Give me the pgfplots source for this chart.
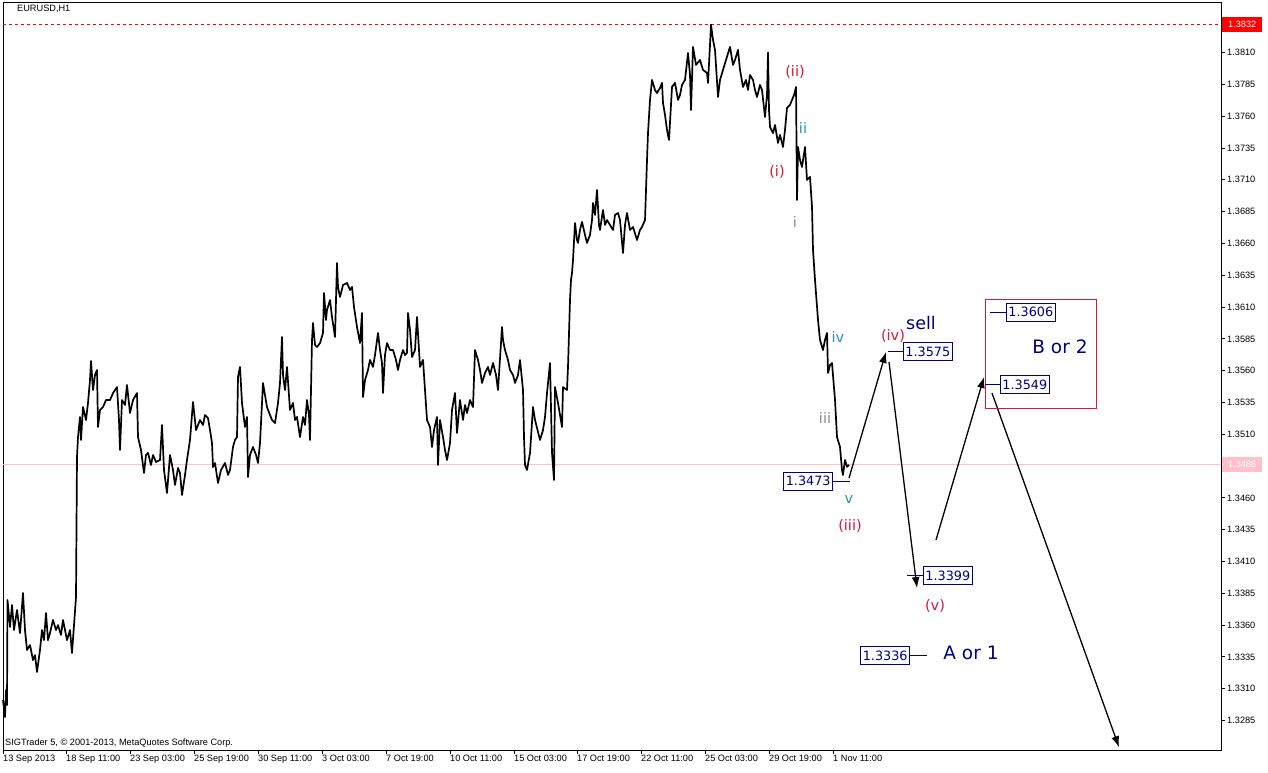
\documentclass[border=0pt]{standalone}
\usepackage{fontspec}
\setmainfont{Liberation Sans}
\newfontfamily\dv{DejaVu Sans}
\usepackage{pgfplots}
\pgfplotsset{compat=1.18}
\usetikzlibrary{arrows.meta}
\definecolor{wred}{HTML}{DC143C}
\definecolor{wteal}{HTML}{2A8FB0}
\definecolor{wgray}{HTML}{8A8A8A}
\definecolor{navyb}{HTML}{000080}
\definecolor{curpink}{HTML}{FFC0CB}
\begin{document}
\begin{tikzpicture}
\useasboundingbox (0,0) rectangle (1268pt,772pt);
\begin{axis}[
 at={(3pt,22pt)}, anchor=south west,
 scale only axis, width=1218pt, height=747pt,
 xmin=3, xmax=1221, ymin=1.32618, ymax=1.38490,
 clip=false,
 axis line style={black, line width=1pt},
 xtick pos=left, ytick pos=right, yticklabel pos=right,
 tick align=outside, major tick length=4pt,
 tick style={black, line width=0.8pt},
 xtick={3,66,130,194,258,322,386,450,514,577,641,705,769,833},
 xticklabels={13 Sep 2013,18 Sep 11:00,23 Sep 03:00,25 Sep 19:00,30 Sep 11:00,3 Oct 03:00,7 Oct 19:00,10 Oct 11:00,15 Oct 03:00,17 Oct 19:00,22 Oct 11:00,25 Oct 03:00,29 Oct 19:00,1 Nov 11:00},
 xticklabel style={anchor=north west, font=\fontsize{9.2}{10}\selectfont, inner sep=1pt, xshift=-1pt},
 ytick={1.3285,1.3310,1.3335,1.3360,1.3385,1.3410,1.3435,1.3460,1.3510,1.3535,1.3560,1.3585,1.3610,1.3635,1.3660,1.3685,1.3710,1.3735,1.3760,1.3785,1.3810},
 yticklabels={1.3285,1.3310,1.3335,1.3360,1.3385,1.3410,1.3435,1.3460,1.3510,1.3535,1.3560,1.3585,1.3610,1.3635,1.3660,1.3685,1.3710,1.3735,1.3760,1.3785,1.3810},
 yticklabel style={anchor=west, font=\fontsize{9.2}{10}\selectfont, inner sep=1pt, xshift=1pt},
]
% current price line and high line
\addplot[curpink, line width=0.8pt] coordinates {(3,1.3486) (1221,1.3486)};
\addplot[red, line width=0.8pt, dash pattern=on 3pt off 3pt] coordinates {(3,1.3832) (1221,1.3832)};
% price
\addplot[black, line width=1.7pt, line join=round] coordinates {
(3,1.33011) (5,1.32877) (6,1.33089) (7,1.32971) (7.5,1.33797) (10,1.33585) (12,1.33758) (14,1.33561) (17,1.33718) (20,1.33537) (23,1.33852) (25,1.33561) (27,1.33404) (30,1.33443) (33,1.33325) (35,1.33364) (37,1.33231) (40,1.33404) (42,1.33561) (44,1.33482) (46,1.33695) (48,1.33482) (50,1.33537) (53,1.33640) (56,1.33561) (58,1.33600) (61,1.33522) (63,1.33640) (65,1.33561) (67,1.33482) (70,1.33561) (72,1.33380) (74,1.33600) (76,1.33820) (77,1.34921) (78,1.35078) (80,1.35236) (81,1.35055) (83,1.35314) (86,1.35212) (88,1.35346) (90,1.35526) (91,1.35676) (93,1.35448) (95,1.35566) (97,1.35605) (98,1.35157) (100,1.35291) (103,1.35314) (106,1.35369) (110,1.35369) (113,1.35424) (117,1.35471) (119,1.35212) (120,1.34976) (122,1.35369) (125,1.35330) (127,1.35487) (130,1.35267) (133,1.35369) (137,1.35424) (138,1.35078) (141,1.34976) (144,1.34795) (146,1.34937) (148,1.34953) (151,1.34858) (153,1.34937) (156,1.34882) (160,1.34898) (162,1.35173) (164,1.34819) (167,1.34638) (170,1.34937) (173,1.34819) (175,1.34701) (178,1.34835) (180,1.34795) (182,1.34622) (185,1.34780) (187,1.34898) (190,1.35055) (193,1.35354) (196,1.35133) (200,1.35212) (203,1.35173) (205,1.35251) (208,1.35228) (210,1.35133) (212,1.35031) (213,1.34842) (215,1.34874) (218,1.34717) (221,1.34819) (225,1.34874) (228,1.34780) (230,1.34819) (233,1.35000) (235,1.35055) (237,1.35078) (238,1.35550) (240,1.35629) (242,1.35346) (245,1.35157) (247,1.35236) (248,1.34764) (250,1.34937) (253,1.35000) (256,1.34937) (258,1.34874) (260,1.35031) (263,1.35503) (265,1.35409) (267,1.35314) (270,1.35251) (272,1.35212) (275,1.35188) (278,1.35346) (280,1.35503) (282,1.35865) (283,1.35566) (285,1.35448) (287,1.35629) (290,1.35291) (293,1.35346) (295,1.35212) (297,1.35236) (300,1.35078) (303,1.35236) (305,1.35173) (307,1.35369) (309,1.35251) (310,1.35055) (312,1.35841) (313,1.35975) (315,1.35802) (317,1.35786) (320,1.35817) (323,1.35896) (324,1.36210) (326,1.35998) (327,1.36077) (330,1.36155) (332,1.36022) (335,1.35865) (337,1.36446) (338,1.36258) (340,1.36179) (343,1.36273) (347,1.36289) (350,1.36234) (352,1.36258) (354,1.36100) (357,1.35943) (360,1.35817) (362,1.36053) (363,1.35393) (365,1.35526) (368,1.35605) (370,1.35684) (373,1.35629) (375,1.35723) (378,1.35896) (380,1.35762) (382,1.35660) (383,1.35424) (385,1.35723) (387,1.35817) (390,1.35762) (393,1.35762) (396,1.35684) (398,1.35605) (400,1.35684) (403,1.35762) (405,1.35723) (407,1.35739) (408,1.36053) (410,1.35920) (412,1.35707) (415,1.35762) (417,1.36022) (420,1.35629) (423,1.35684) (425,1.35448) (427,1.35212) (430,1.35157) (432,1.35000) (434,1.35133) (437,1.35236) (438,1.34858) (440,1.35212) (443,1.35078) (445,1.34976) (447,1.34898) (450,1.35031) (452,1.35291) (455,1.35424) (457,1.35110) (460,1.35369) (463,1.35212) (465,1.35330) (467,1.35267) (470,1.35369) (473,1.35314) (475,1.35762) (478,1.35684) (480,1.35605) (482,1.35503) (485,1.35582) (488,1.35629) (490,1.35566) (493,1.35660) (496,1.35566) (498,1.35448) (502,1.35943) (503,1.35841) (505,1.35762) (508,1.35684) (510,1.35605) (513,1.35566) (515,1.35503) (518,1.35566) (520,1.35684) (523,1.35448) (524,1.35078) (525,1.34858) (527,1.34819) (530,1.34953) (533,1.35314) (535,1.35212) (540,1.35055) (543,1.35133) (545,1.35236) (547,1.35424) (550,1.35660) (552,1.34953) (554,1.34740) (555,1.35471) (558,1.35346) (560,1.35251) (562,1.35157) (563,1.35471) (567,1.35448) (568,1.35629) (570,1.36155) (571,1.36313) (572,1.36368) (573,1.36470) (575,1.36761) (577,1.36627) (578,1.36604) (580,1.36706) (582,1.36769) (585,1.36667) (587,1.36604) (590,1.36667) (592,1.36784) (593,1.36918) (595,1.36824) (597,1.37020) (599,1.36745) (600,1.36706) (603,1.36863) (605,1.36745) (607,1.36784) (610,1.36745) (613,1.36706) (615,1.36824) (618,1.36839) (620,1.36784) (623,1.36525) (625,1.36745) (627,1.36839) (630,1.36706) (633,1.36729) (637,1.36627) (640,1.36706) (642,1.36729) (645,1.36784) (647,1.37256) (648,1.37468) (650,1.37728) (652,1.37885) (655,1.37806) (657,1.37783) (660,1.37822) (662,1.37862) (663,1.37704) (665,1.37610) (667,1.37492) (669,1.37413) (672,1.37830) (675,1.37862) (678,1.37728) (680,1.37767) (682,1.37846) (685,1.37885) (688,1.38097) (690,1.37924) (691,1.37649) (693,1.38145) (696,1.38003) (700,1.38042) (703,1.37964) (707,1.37940) (708,1.37862) (710,1.38160) (711,1.38320) (713,1.38200) (715,1.38121) (718,1.37751) (720,1.37885) (723,1.37964) (726,1.38042) (730,1.38145) (733,1.38003) (735,1.38042) (738,1.38121) (740,1.37964) (743,1.37830) (746,1.37885) (748,1.37806) (750,1.37924) (753,1.37885) (755,1.37806) (757,1.37751) (760,1.37846) (762,1.37806) (765,1.37594) (767,1.37767) (768,1.38100) (769,1.37649) (770,1.37516) (773,1.37468) (775,1.37531) (778,1.37390) (780,1.37453) (783,1.37358) (785,1.37492) (787,1.37665) (790,1.37689) (792,1.37728) (794,1.37767) (796,1.37830) (797,1.36942) (798,1.37358) (800,1.37256) (802,1.37201) (805,1.37358) (807,1.37099) (810,1.37123) (812,1.36887) (813,1.36549) (815,1.36313) (818,1.35998) (820,1.35841) (823,1.35762) (825,1.35841) (827,1.35896) (828,1.35582) (830,1.35644) (832,1.35660) (835,1.35369) (837,1.35078) (840,1.35000) (842,1.34819) (843,1.34780) (845,1.34898) (847,1.34843) (849,1.34860)
};
% projection arrows
\addplot[black, line width=1.3pt, -{Latex[length=11pt,width=8pt]}] coordinates {(849,1.34756) (886,1.35747)};
\addplot[black, line width=1.3pt, -{Latex[length=11pt,width=8pt]}] coordinates {(889,1.35668) (917,1.33891)};
\addplot[black, line width=1.3pt, -{Latex[length=11pt,width=8pt]}] coordinates {(936,1.34269) (984,1.35550)};
\addplot[black, line width=1.3pt, -{Latex[length=11pt,width=8pt]}] coordinates {(992,1.35424) (1119,1.32640)};
% target zone
\addplot[wred, line width=0.8pt] coordinates {(985,1.36163) (1096,1.36163) (1096,1.35306) (985,1.35306) (985,1.36163)};
% leader lines
\addplot[navyb, line width=0.8pt] coordinates {(888,1.3575) (903,1.3575)};
\addplot[navyb, line width=0.8pt] coordinates {(833,1.3473) (850,1.3473)};
\addplot[navyb, line width=0.8pt] coordinates {(907,1.3399) (923,1.3399)};
\addplot[navyb, line width=0.8pt] coordinates {(910,1.3336) (927,1.3336)};
\addplot[navyb, line width=0.8pt] coordinates {(990,1.3606) (1006,1.3606)};
\addplot[navyb, line width=0.8pt] coordinates {(985,1.3549) (1000,1.3549)};
% level boxes
\tikzset{lvl/.style={draw=navyb, text=navyb, fill=white, line width=0.8pt, inner xsep=2pt, inner ysep=4pt, font=\dv\fontsize{12.8}{13}\selectfont}}
\node[lvl, anchor=west] at (axis cs:903,1.3575) {1.3575};
\node[lvl, anchor=east] at (axis cs:833,1.3473) {1.3473};
\node[lvl, anchor=west] at (axis cs:923,1.3399) {1.3399};
\node[lvl, anchor=east] at (axis cs:910,1.3336) {1.3336};
\node[lvl, anchor=west] at (axis cs:1006,1.3606) {1.3606};
\node[lvl, anchor=west] at (axis cs:1000,1.3549) {1.3549};
% wave labels
\tikzset{wv/.style={font=\dv\fontsize{14.5}{15}\selectfont, inner sep=0pt}}
\node[wv, text=wred] at (axis cs:795,1.37948) {(ii)};
\node[wv, text=wteal] at (axis cs:803,1.37508) {ii};
\node[wv, text=wred] at (axis cs:777,1.37162) {(i)};
\node[wv, text=wgray] at (axis cs:795,1.36769) {i};
\node[wv, text=wteal] at (axis cs:838,1.35865) {iv};
\node[wv, text=wgray] at (axis cs:825,1.35228) {iii};
\node[wv, text=wteal] at (axis cs:849,1.34583) {v};
\node[wv, text=wred] at (axis cs:850,1.34379) {(iii)};
\node[wv, text=wred] at (axis cs:893,1.35873) {(iv)};
\node[wv, text=wred] at (axis cs:935,1.33750) {(v)};
\node[font=\dv\fontsize{17.5}{18}\selectfont, text=navyb, inner sep=0pt] at (axis cs:921,1.35975) {sell};
\node[font=\dv\fontsize{18.5}{19}\selectfont, text=navyb, inner sep=0pt] at (axis cs:971,1.33380) {A or 1};
\node[font=\dv\fontsize{18.5}{19}\selectfont, text=navyb, inner sep=0pt] at (axis cs:1060,1.35786) {B or 2};
% right-side price tags
\node[fill=red, text=white, anchor=west, inner sep=0pt, minimum width=40pt, minimum height=15pt, font=\fontsize{9.2}{10}\selectfont] at (axis cs:1222,1.3832) {1.3832};
\node[fill=curpink, text=white, anchor=west, inner sep=0pt, minimum width=40pt, minimum height=15pt, font=\fontsize{9.2}{10}\selectfont] at (axis cs:1222,1.3486) {1.3486};
% captions
\node[anchor=west, inner sep=0pt, font=\fontsize{9.2}{10}\selectfont] at (axis cs:17,1.38443) {EURUSD,H1};
\node[anchor=west, inner sep=0pt, font=\fontsize{9.2}{10}\selectfont] at (axis cs:5,1.32673) {SIGTrader 5, © 2001-2013, MetaQuotes Software Corp.};
\end{axis}
\end{tikzpicture}
\end{document}
